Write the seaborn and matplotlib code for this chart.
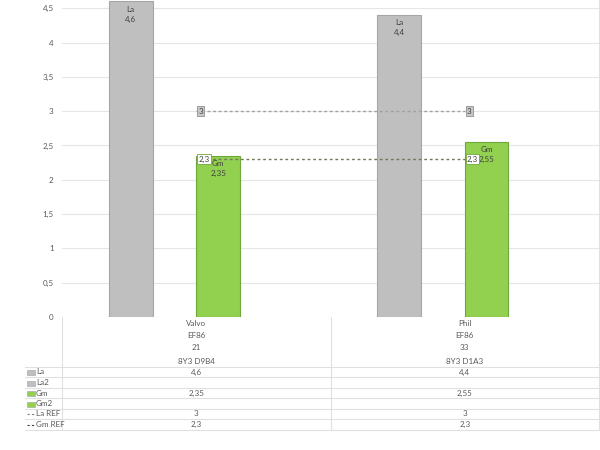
import numpy as np
import pandas as pd
import matplotlib
matplotlib.use("Agg")
import matplotlib.pyplot as plt
import matplotlib.transforms as mtransforms
import seaborn as sns

# category levels (multi-level x axis, shown in the data table)
makers = ["Valvo", "Phil"]
types = ["EF86", "EF86"]
numbers = ["21", "33"]
codes = ["8Y3 D9B4", "8Y3 D1A3"]

series_names = ["La", "La2", "Gm", "Gm2"]
la = [4.6, 4.4]
la2 = [np.nan, np.nan]
gm = [2.35, 2.55]
gm2 = [np.nan, np.nan]
la_ref = [3, 3]
gm_ref = [2.3, 2.3]

W, H = 600, 450
FS = 5.8


def fy(py):
    return 1 - py / H


def fmt(v):
    if v is None or (isinstance(v, float) and np.isnan(v)):
        return ""
    s = f"{v:g}"
    return s.replace(".", ",")


sns.set_theme(style="white")
plt.rcParams["font.family"] = ["Lato", "DejaVu Sans"]

df = pd.DataFrame({
    "cat": makers * 4,
    "series": np.repeat(series_names, len(makers)),
    "value": la + la2 + gm + gm2,
})

palette = {"La": "#BFBFBF", "La2": "#BFBFBF", "Gm": "#92D050", "Gm2": "#92D050"}
edges = {"La": "#A6A6A6", "La2": "#A6A6A6", "Gm": "#6FA83A", "Gm2": "#6FA83A"}

fig = plt.figure(figsize=(6, 4.5), dpi=100)
ax = fig.add_axes([62 / W, fy(317), (599 - 62) / W, 317 / H])

sns.barplot(data=df, x="cat", y="value", hue="series", hue_order=series_names,
            palette=palette, width=0.65, legend=False, ax=ax, saturation=1)

# bar edges and inside-end labels
lookup = {}
for s, vals in zip(series_names, [la, la2, gm, gm2]):
    for v in vals:
        if not np.isnan(v):
            lookup[round(v, 3)] = s
for p in ax.patches:
    h = p.get_height()
    if not np.isfinite(h) or h == 0:
        continue
    s = lookup.get(round(h, 3))
    if s is None:
        continue
    p.set_edgecolor(edges[s])
    p.set_linewidth(0.8)
    ax.annotate(f"{s}\n{fmt(h)}", xy=(p.get_x() + p.get_width() / 2, h),
                xytext=(0, -3), textcoords="offset points", ha="center", va="top",
                fontsize=FS, color="#404040", linespacing=1.5)

# reference lines
xs = np.arange(len(makers))
sns.lineplot(x=xs, y=la_ref, ax=ax, color="#A0A0A0", linestyle=(0, (2, 2)), linewidth=1)
sns.lineplot(x=xs, y=gm_ref, ax=ax, color="#707A58", linestyle=(0, (2, 2)), linewidth=1)
for x, v in zip(xs, la_ref):
    ax.annotate(fmt(v), xy=(x, v), xytext=(1.5, 0), textcoords="offset points",
                ha="left", va="center", fontsize=FS, color="#404040",
                bbox=dict(boxstyle="square,pad=0.15", fc="#C8C8C8", ec="#909090", lw=0.6))
for x, v in zip(xs, gm_ref):
    ax.annotate(fmt(v), xy=(x, v), xytext=(1.5, 0), textcoords="offset points",
                ha="left", va="center", fontsize=FS, color="#404040",
                bbox=dict(boxstyle="square,pad=0.15", fc="white", ec="#6FA83A", lw=0.6))

ax.set_xlim(-0.5, len(makers) - 0.5)
ax.set_ylim(0, 4.62)
ax.set_yticks(np.arange(0, 4.51, 0.5))
ax.set_yticklabels([fmt(round(t, 1)) for t in np.arange(0, 4.51, 0.5)],
                   fontsize=FS, color="#595959")
ax.tick_params(axis="y", length=0, pad=6)
ax.set_xticks([])
ax.set_xlabel("")
ax.set_ylabel("")
ax.grid(axis="y", color="#E6E6E6", linewidth=0.8)
ax.set_axisbelow(True)
for side in ["left", "top", "bottom"]:
    ax.spines[side].set_visible(False)
ax.spines["right"].set_color("#E0E0E0")
ax.spines["right"].set_linewidth(0.8)

# data table below the plot
line_c = "#E0E0E0"
txt_c = "#595959"
blend = mtransforms.blended_transform_factory(ax.transData, fig.transFigure)
left, right, mid = 62 / W, 599 / W, 331 / W

for i, levels in enumerate(zip(makers, types, numbers, codes)):
    for py, t in zip([323, 336, 348, 361], levels):
        fig.text(i, fy(py), t, transform=blend, ha="center", va="center",
                 fontsize=FS, color=txt_c)

rows = [("La", la, "box", "#BFBFBF"), ("La2", la2, "box", "#BFBFBF"),
        ("Gm", gm, "box", "#92D050"), ("Gm2", gm2, "box", "#92D050"),
        ("La REF", la_ref, "dash", "#808080"), ("Gm REF", gm_ref, "dash", "#404040")]
row_lines = [367, 377, 388, 398, 409, 419, 430]
for k, (name, vals, kind, col) in enumerate(rows):
    cy = fy((row_lines[k] + row_lines[k + 1]) / 2)
    if kind == "box":
        fig.patches.append(plt.Rectangle((27 / W, cy - 3 / H), 8 / W, 5 / H,
                                         transform=fig.transFigure, fc=col,
                                         ec="#A0A0A0", lw=0.4))
    else:
        fig.add_artist(plt.Line2D([27 / W, 35 / W], [cy, cy], transform=fig.transFigure,
                                  color=col, lw=0.8, linestyle=(0, (2, 2))))
    fig.text(36 / W, cy, name, ha="left", va="center", fontsize=FS, color=txt_c)
    for i, v in enumerate(vals):
        fig.text(i, cy, fmt(v), transform=blend, ha="center", va="center",
                 fontsize=FS, color=txt_c)

for py in row_lines:
    fig.add_artist(plt.Line2D([25 / W, right], [fy(py), fy(py)],
                              transform=fig.transFigure, color=line_c, lw=0.8))
for px in [left, mid, right]:
    fig.add_artist(plt.Line2D([px, px], [fy(317), fy(430)],
                              transform=fig.transFigure, color=line_c, lw=0.8))

fig.savefig("out.png", dpi=100, facecolor="white")
